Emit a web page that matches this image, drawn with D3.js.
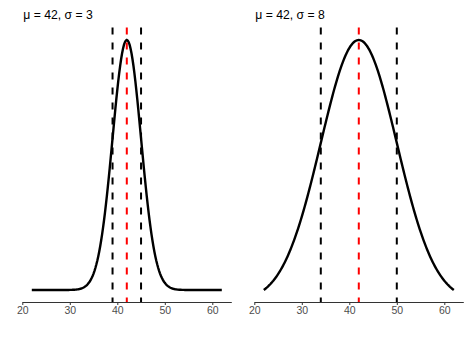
<!DOCTYPE html>
<html>
<head>
<meta charset="utf-8">
<script src="https://cdn.jsdelivr.net/npm/d3@7"></script>
<style>
  body { margin: 0; background: #fff; }
  svg { display: block; font-family: "Liberation Sans", Arial, sans-serif; }
</style>
</head>
<body>
<script>
// panel parameters
var mus    = [42, 42]
  , sigmas = [3, 8]
  , xTicks = [20, 30, 40, 50, 60]
  , xMin = 22, xMax = 62

var W = 474, H = 338
var svg = d3.select("body").append("svg").attr("width", W).attr("height", H)

// panel geometry (left/right px of each panel)
var panels = [
  { x0: 22.3, x1: 231.3 },
  { x0: 254.3, x1: 463.3 }
]
var panelTop = 27.5, panelBottom = 302.5, axisY = 302

function dnorm (x, mu, s) {
  return Math.exp(-0.5 * Math.pow((x - mu) / s, 2)) / (s * Math.sqrt(2 * Math.PI))
}

mus.forEach(function (mu, i) {
  var s = sigmas[i], p = panels[i]
  var pts = d3.range(0, 201).map(function (k) {
    var x = xMin + (xMax - xMin) * k / 200
    return { x: x, y: dnorm(x, mu, s) }
  })

  var x = d3.scaleLinear().domain([20, 64]).range([p.x0, p.x1])
  var ext = d3.extent(pts, function (d) { return d.y })
  var pad = (ext[1] - ext[0]) * 0.05
  var y = d3.scaleLinear().domain([ext[0] - pad, ext[1] + pad]).range([panelBottom, panelTop])

  var g = svg.append("g")

  // x axis
  var ax = g.append("g")
    .attr("transform", "translate(0," + axisY + ")")
    .call(d3.axisBottom(x).tickValues(xTicks).tickSize(3).tickSizeOuter(0).tickPadding(2))
  ax.select(".domain").attr("stroke", "#333").attr("stroke-width", 1.1)
  ax.selectAll(".tick line").attr("stroke", "#333")
  ax.selectAll(".tick text").attr("fill", "#4d4d4d").style("font-size", "10.5px")
    .style("font-family", "'Liberation Sans', Arial, sans-serif")

  // density curve
  g.append("path")
    .datum(pts)
    .attr("fill", "none")
    .attr("stroke", "#000")
    .attr("stroke-width", 2.4)
    .attr("d", d3.line().x(function (d) { return x(d.x) }).y(function (d) { return y(d.y) }))

  // mean +/- sd lines
  var vl = [
    { v: mu - s, c: "#000" },
    { v: mu + s, c: "#000" },
    { v: mu,     c: "#ff0000" }
  ]
  g.selectAll("line.vl").data(vl).enter().append("line")
    .attr("class", "vl")
    .attr("x1", function (d) { return x(d.v) })
    .attr("x2", function (d) { return x(d.v) })
    .attr("y1", panelTop)
    .attr("y2", axisY)
    .attr("stroke", function (d) { return d.c })
    .attr("stroke-width", 2)
    .attr("stroke-dasharray", "7,8")

  // title
  svg.append("text")
    .attr("x", p.x0 + 1)
    .attr("y", 19)
    .style("font-size", "12.2px")
    .attr("fill", "#000")
    .text("\u03bc = " + mu + ", \u03c3 = " + s)
})
</script>
</body>
</html>
